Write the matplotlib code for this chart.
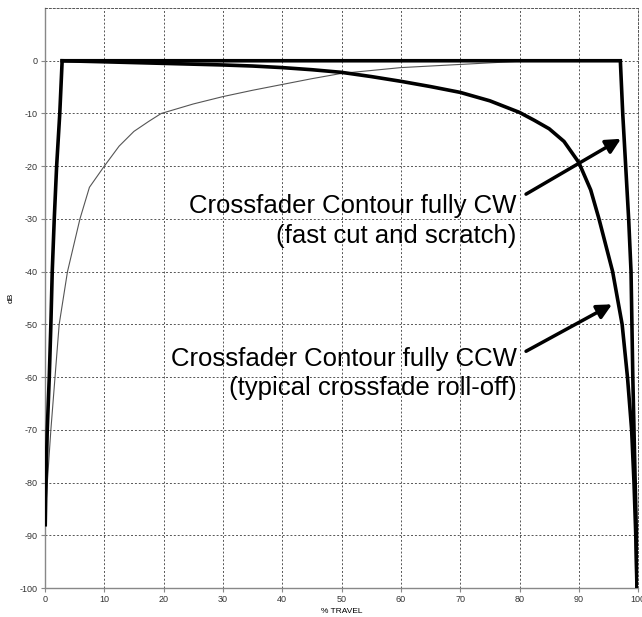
import matplotlib
matplotlib.use("Agg")
import matplotlib.pyplot as plt

plt.rcParams["font.family"] = ["Liberation Sans", "DejaVu Sans"]
plt.rcParams["axes.unicode_minus"] = False

# curva contorno CW (corte rapido)
cw_x = [0.05, 0.17, 0.39, 0.73, 1.0, 1.23, 1.57, 1.97, 2.5, 2.9,
        97.0, 97.4, 97.9, 98.4, 98.8, 98.95, 99.1, 99.3, 99.5, 99.7, 99.8]
cw_y = [-88, -80, -70, -60, -50, -40, -30, -20, -10, 0,
        0, -10, -20, -30, -40, -50, -60, -70, -80, -90, -100]

# curva contorno CCW (roll-off tipico)
ccw_x = [2.9, 10, 20, 30, 35, 40, 45, 50, 55, 60, 65, 70, 75, 80, 82.5, 85, 87.5, 90,
         92, 93.4, 95.7, 97.3, 98.2, 98.9, 99.3, 99.6, 99.8]
ccw_y = [0, -0.2, -0.5, -0.8, -1.0, -1.3, -1.7, -2.2, -3.0, -3.9, -4.9, -6.0, -7.6, -9.8,
         -11.3, -12.9, -15.3, -19.3, -24.5, -30, -40, -50, -60, -70, -80, -90, -100]

# canal opuesto (linea fina)
fina_x = [0, 0.4, 1.0, 1.7, 2.4, 3.8, 5.9, 7.5, 10, 12.5, 15, 17.5, 19.6, 25, 30, 35, 40,
          45, 50, 60, 70, 80, 97]
fina_y = [-88, -80, -70, -60, -50, -40, -30, -24, -20, -16.2, -13.4, -11.5, -10, -8.2,
          -6.8, -5.6, -4.5, -3.4, -2.4, -1.3, -0.7, -0.1, 0]

x_ticks = list(range(0, 101, 10))
y_ticks = list(range(-100, 1, 10))

textos = ["Crossfader Contour fully CW\n(fast cut and scratch)",
          "Crossfader Contour fully CCW\n(typical crossfade roll-off)"]
texto_pos = [(79.5, -30.4), (79.5, -59.3)]
flecha_cola = [(81.1, -25.3), (81.1, -55.1)]
flecha_punta = [(97.1, -14.8), (95.6, -46.2)]

fig = plt.figure(figsize=(6.42, 6.17), dpi=100)
ax = fig.add_axes([0.070, 0.047, 0.924, 0.940])

ax.plot(fina_x, fina_y, color="#555555", lw=0.8, zorder=3)
ax.plot(ccw_x, ccw_y, color="black", lw=2.6, zorder=4)
ax.plot(cw_x, cw_y, color="black", lw=2.6, zorder=5, solid_joinstyle="miter")

ax.set_xlim(0, 100)
ax.set_ylim(-100, 10)
ax.set_xticks(x_ticks)
ax.set_yticks(y_ticks)
ax.tick_params(labelsize=6.5, labelcolor="#333333", length=3, color="#888888", pad=2)
ax.grid(True, linestyle=(0, (2, 2)), color="#555555", lw=0.7)

for lado in ["left", "bottom"]:
    ax.spines[lado].set_color("#888888")
    ax.spines[lado].set_linewidth(1.0)
for lado in ["top", "right"]:
    ax.spines[lado].set_linestyle((0, (2, 2)))
    ax.spines[lado].set_color("#555555")
    ax.spines[lado].set_linewidth(0.7)

ax.set_ylabel("dB", fontsize=6, labelpad=4)
ax.set_xlabel("% TRAVEL", fontsize=6, labelpad=3)

for t, (tx, ty) in zip(textos, texto_pos):
    ax.text(tx, ty, t, fontsize=18.5, ha="right", va="center", multialignment="right",
            linespacing=1.3, zorder=6)

for cola, punta in zip(flecha_cola, flecha_punta):
    ax.annotate("", xy=punta, xytext=cola,
                arrowprops=dict(arrowstyle="-|>", color="black", lw=2.5, mutation_scale=22,
                                shrinkA=0, shrinkB=0), zorder=6)

fig.savefig("out.png", dpi=100)
